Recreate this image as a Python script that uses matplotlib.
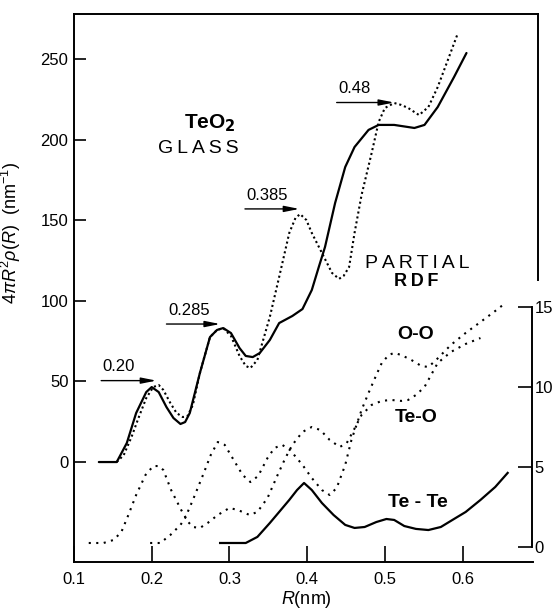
import matplotlib
matplotlib.use('Agg')
import matplotlib.pyplot as plt

plt.rcParams['font.family'] = ['Liberation Sans', 'DejaVu Sans']
plt.rcParams['mathtext.fontset'] = 'custom'
plt.rcParams['mathtext.rm'] = 'Liberation Sans'
plt.rcParams['mathtext.it'] = 'Liberation Sans:italic'

# total RDF of TeO2 glass (left axis, nm^-1)
r_total = [0.132, 0.155, 0.168, 0.180, 0.193, 0.200, 0.209, 0.219, 0.228, 0.237,
           0.243, 0.249, 0.262, 0.275, 0.284, 0.292, 0.302, 0.313, 0.321, 0.330,
           0.339, 0.352, 0.364, 0.381, 0.394, 0.406, 0.415, 0.423, 0.436, 0.449,
           0.461, 0.479, 0.492, 0.512, 0.538, 0.551, 0.568, 0.589, 0.605]
rdf_total = [0, 0, 11.8, 30.4, 43.4, 46.5, 43.4, 34.1, 27.3, 23.6,
             24.8, 30.4, 55.2, 77.5, 81.9, 83.1, 80.0, 70.7, 65.8, 65.1,
             67.6, 75.7, 86.2, 90.6, 94.9, 106.7, 121.0, 133.4, 160.7, 183.0,
             195.4, 206.0, 209.1, 209.1, 207.2, 209.1, 220.2, 238.8, 253.7]

# sum of partial RDFs (dotted)
r_sum = [0.155, 0.164, 0.174, 0.183, 0.193, 0.202, 0.209, 0.215, 0.224, 0.232,
         0.240, 0.246, 0.253, 0.262, 0.275, 0.284, 0.292, 0.302, 0.313, 0.321,
         0.327, 0.336, 0.346, 0.352, 0.364, 0.377, 0.385, 0.391, 0.399, 0.406,
         0.419, 0.432, 0.441, 0.447, 0.454, 0.461, 0.470, 0.483, 0.492, 0.500,
         0.512, 0.521, 0.530, 0.544, 0.556, 0.568, 0.581, 0.594]
rdf_sum = [0, 4.3, 15.5, 27.3, 39.7, 46.5, 47.8, 44.7, 36.6, 30.4,
           27.9, 28.5, 35.4, 55.2, 77.5, 81.9, 83.1, 78.2, 65.8, 59.6,
           58.3, 63.3, 80.0, 90.0, 114.8, 142.1, 151.4, 153.8, 150.1, 142.1,
           129.7, 117.3, 113.6, 115.5, 121.0, 142.1, 165.6, 191.7, 210.9, 219.6,
           222.7, 221.5, 219.6, 215.2, 220.2, 232.6, 249.3, 266.1]

# partial RDFs (right axis)
r_oo = [0.198, 0.211, 0.224, 0.237, 0.243, 0.253, 0.266, 0.276, 0.285, 0.294,
        0.304, 0.317, 0.327, 0.337, 0.349, 0.358, 0.368, 0.378, 0.394, 0.406,
        0.419, 0.429, 0.438, 0.449, 0.457, 0.470, 0.479, 0.489, 0.496, 0.505,
        0.512, 0.521, 0.534, 0.547, 0.556, 0.566, 0.585, 0.604, 0.623, 0.642,
        0.652]
p_oo = [0.25, 0.25, 0.75, 1.38, 1.81, 2.94, 4.5, 5.75, 6.56, 6.38,
        5.56, 4.5, 4.06, 4.44, 5.56, 6.19, 6.38, 6.06, 5.13, 4.31,
        3.56, 3.25, 3.69, 5.13, 6.69, 8.56, 9.63, 10.75, 11.5, 12.0,
        12.13, 12.0, 11.69, 11.31, 11.25, 11.69, 12.63, 13.38, 14.06, 14.75,
        15.13]

r_teo = [0.119, 0.138, 0.151, 0.161, 0.170, 0.180, 0.192, 0.202, 0.209, 0.215,
         0.225, 0.238, 0.247, 0.253, 0.262, 0.272, 0.285, 0.300, 0.311, 0.326,
         0.336, 0.349, 0.362, 0.372, 0.381, 0.394, 0.406, 0.417, 0.429, 0.442,
         0.451, 0.460, 0.470, 0.483, 0.496, 0.508, 0.521, 0.530, 0.540, 0.551,
         0.568, 0.585, 0.604, 0.623]
p_teo = [0.25, 0.25, 0.44, 0.94, 2.0, 3.25, 4.5, 5.06, 5.06, 4.81,
         3.56, 2.31, 1.56, 1.25, 1.19, 1.5, 2.0, 2.44, 2.31, 2.0,
         2.19, 3.06, 4.5, 5.56, 6.38, 7.19, 7.5, 7.31, 6.69, 6.25,
         6.5, 7.31, 8.25, 8.88, 9.13, 9.19, 9.13, 9.19, 9.5, 10.0,
         11.5, 12.19, 12.69, 13.06]

r_tete = [0.288, 0.321, 0.336, 0.352, 0.364, 0.377, 0.387, 0.396, 0.406, 0.419,
          0.434, 0.449, 0.461, 0.474, 0.489, 0.502, 0.512, 0.525, 0.540, 0.556,
          0.572, 0.591, 0.604, 0.623, 0.642, 0.658]
p_tete = [0.25, 0.25, 0.63, 1.5, 2.19, 2.94, 3.56, 4.0, 3.56, 2.75,
          2.0, 1.38, 1.19, 1.25, 1.56, 1.75, 1.69, 1.31, 1.13, 1.06,
          1.25, 1.81, 2.19, 2.94, 3.75, 4.63]

# peak markers: label, arrow tail R, arrow tip R, height
peak_labels = ['0.20', '0.285', '0.385', '0.48']
arrow_tail = [0.135, 0.219, 0.320, 0.438]
arrow_tip = [0.206, 0.288, 0.390, 0.512]
arrow_level = [50.5, 85.6, 157.0, 223.0]

x_ticks = [0.1, 0.2, 0.3, 0.4, 0.5, 0.6]
y_ticks = [0, 50, 100, 150, 200, 250]
p_ticks = [0, 5, 10, 15]

fig = plt.figure(figsize=(5.52, 6.14), dpi=100)
ax = fig.add_axes([0.134, 0.0847, 0.8406, 0.8925])
ax.set_xlim(0.1, 0.697)
ax.set_ylim(-62.0, 277.9)

ax.plot(r_total, rdf_total, color='black', lw=1.6,
        solid_capstyle='round', solid_joinstyle='round')
ax.plot(r_sum, rdf_sum, color='black', lw=1.5, linestyle=(0, (1, 1.4)))

for lab, t0, t1, lv in zip(peak_labels, arrow_tail, arrow_tip, arrow_level):
    ax.annotate('', xy=(t1, lv), xytext=(t0, lv),
                arrowprops=dict(arrowstyle='-|>,head_length=0.9,head_width=0.18',
                                color='black', lw=1.0, shrinkA=0, shrinkB=0))
    ax.text(t0 + 0.002, lv + 8.5, lab, fontsize=12, ha='left', va='center')

ax.text(0.275, 210.3, r'TeO$_\mathbf{2}$', fontsize=15, fontweight='bold',
        ha='center', va='center')
ax.text(0.260, 194.2, 'G\u2009L\u2009A\u2009S\u2009S', fontsize=14,
        ha='center', va='center')
ax.text(0.542, 123.4, 'P\u2009A\u2009R\u2009T\u2009I\u2009A\u2009L', fontsize=14,
        ha='center', va='center')
ax.text(0.540, 111.7, 'R\u2009D\u2009F', fontsize=13, fontweight='bold',
        ha='center', va='center')
ax.text(0.540, 78.8, 'O-O', fontsize=14, fontweight='bold', ha='center', va='center')
ax.text(0.540, 27.9, 'Te-O', fontsize=14, fontweight='bold', ha='center', va='center')
ax.text(0.543, -25.4, 'Te - Te', fontsize=14, fontweight='bold', ha='center', va='center')

ax.set_xticks(x_ticks)
ax.set_xticklabels([f'{v:g}' for v in x_ticks])
ax.set_yticks(y_ticks)
ax.tick_params(axis='x', direction='in', length=11.5, width=1.2, pad=7, labelsize=12)
ax.tick_params(axis='y', direction='in', length=8.5, width=1.2, pad=4, labelsize=12)
for side in ['left', 'bottom', 'top', 'right']:
    ax.spines[side].set_linewidth(1.4)
ax.spines['bottom'].set_bounds(0.1, 0.691)
ax.spines['right'].set_bounds(112.9, 277.9)

ax.set_xlabel(r'$R$(nm)', fontsize=13, labelpad=2)
ax.set_ylabel(r'$4\pi R^2\rho(R)$  (nm$^{-1}$)', fontsize=13)
ax.yaxis.set_label_coords(-0.11, 0.60)

# partial RDFs on their own scale
ax2 = ax.twinx()
ax2.set_ylim(-0.9375, 33.31)
ax2.plot(r_oo, p_oo, color='black', lw=1.5, linestyle=(0, (1, 2.6)))
ax2.plot(r_teo, p_teo, color='black', lw=1.5, linestyle=(0, (1, 2.6)))
ax2.plot(r_tete, p_tete, color='black', lw=1.6, solid_joinstyle='round')
ax2.set_yticks(p_ticks)
ax2.tick_params(axis='y', direction='in', length=10, width=1.2, pad=2, labelsize=12)
for side in ['left', 'bottom', 'top']:
    ax2.spines[side].set_visible(False)
ax2.spines['right'].set_bounds(0, 15)
ax2.spines['right'].set_position(('axes', 0.987))
ax2.spines['right'].set_linewidth(1.4)

fig.savefig('out.png', dpi=100)
